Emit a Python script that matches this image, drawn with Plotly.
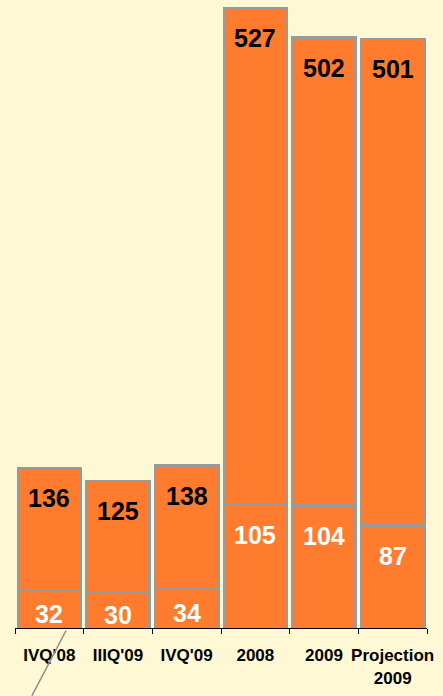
import plotly.graph_objects as go

categories = ["IVQ'08", "IIIQ'09", "IVQ'09", "2008", "2009", "Projection<br>2009"]
base_values = [32, 30, 34, 105, 104, 87]
total_values = [136, 125, 138, 527, 502, 501]

upper_values = [t - b for t, b in zip(total_values, base_values)]

FONT = "Liberation Sans, Arial, sans-serif"
ORANGE = "#FF7C2E"
EDGE = "#9A9A9A"

fig = go.Figure()

fig.add_trace(go.Bar(
    x=categories, y=base_values, name="base",
    marker=dict(color=ORANGE, line=dict(color=EDGE, width=2.5)),
    hoverinfo="skip",
))
fig.add_trace(go.Bar(
    x=categories, y=upper_values, name="rest",
    marker=dict(color=ORANGE, line=dict(color=EDGE, width=2.5)),
    hoverinfo="skip",
))

# totals near the top of each bar, base values inside the lower segment
# (x given as category index: "2008"/"2009" would be read as numbers)
for i, (tot, base) in enumerate(zip(total_values, base_values)):
    fig.add_annotation(
        x=i, y=tot, text=f"<b>{tot}</b>", showarrow=False,
        yanchor="middle", yshift=-30,
        font=dict(family=FONT, size=25, color="black"),
    )
    seg_px = base * 628 / 534
    fig.add_annotation(
        x=i, y=base, text=f"<b>{base}</b>", showarrow=False,
        yanchor="middle", yshift=-min(30, seg_px / 2 + 5),
        font=dict(family=FONT, size=25, color="white"),
    )

# callout pointer line below the first bar
fig.add_shape(
    type="line", xref="paper", yref="paper",
    x0=0.124, y0=-0.004, x1=0.041, y1=-0.108,
    line=dict(color="#8C8C8C", width=1.5),
)

fig.update_layout(
    barmode="stack",
    bargap=0.08,
    showlegend=False,
    width=443, height=696,
    margin=dict(l=15, r=16, t=0, b=68, autoexpand=False),
    paper_bgcolor="#FEF8D4",
    plot_bgcolor="rgba(0,0,0,0)",
    font=dict(family=FONT),
    xaxis=dict(
        type="category",
        categoryorder="array", categoryarray=categories,
        range=[-0.5, len(categories) - 0.5],
        automargin=False,
        tickson="boundaries", ticks="outside", ticklen=5, tickcolor="black",
        showline=True, linecolor="black", linewidth=1,
        tickfont=dict(family=FONT, size=17, color="black", weight="bold"),
        tickangle=0,
        ticklabelstandoff=12,
        showgrid=False,
    ),
    yaxis=dict(range=[0, 534], visible=False, showgrid=False, automargin=False),
)

fig.write_html(
    "out.html",
    config={"displayModeBar": False},
    post_script="document.body.style.margin='0';",
)
